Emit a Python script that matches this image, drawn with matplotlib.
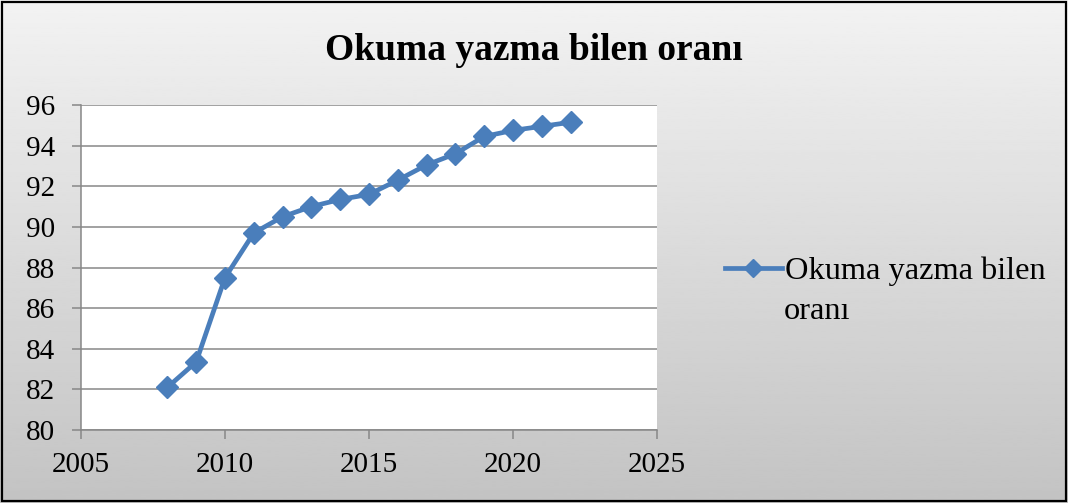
import numpy as np
import matplotlib.pyplot as plt
from matplotlib.patches import Rectangle

# values
years = [2008, 2009, 2010, 2011, 2012, 2013, 2014, 2015, 2016, 2017, 2018, 2019, 2020, 2021, 2022]
rate = [82.1, 83.35, 87.5, 89.7, 90.5, 91.0, 91.35, 91.6, 92.3, 93.05, 93.6, 94.45, 94.75, 94.95, 95.15]
x_ticks = [2005, 2010, 2015, 2020, 2025]
y_ticks = [80, 82, 84, 86, 88, 90, 92, 94, 96]
title = 'Okuma yazma bilen oranı'
legend_lines = ['Okuma yazma bilen', 'oranı']

plt.rcParams['font.family'] = ['Liberation Serif', 'DejaVu Serif']
blue = '#4a7ebb'
grid_col = '#878787'
W, H = 1068, 503

fig = plt.figure(figsize=(W / 100, H / 100), dpi=100)

# gradient background + outer frame
bg = fig.add_axes([0, 0, 1, 1], zorder=-10)
grad = np.linspace(0.95, 0.765, 256).reshape(-1, 1)
bg.imshow(grad, cmap='gray', vmin=0, vmax=1, aspect='auto', extent=[0, 1, 0, 1])
bg.set_xlim(0, 1)
bg.set_ylim(0, 1)
bg.axis('off')
bg.add_patch(Rectangle((0.002, 0.003), 0.996, 0.994, fill=False, edgecolor='black', lw=1.6,
                       transform=bg.transAxes))

ax = fig.add_axes([81 / W, 1 - 430 / H, (657 - 81) / W, (430 - 105) / H])
ax.set_facecolor('white')
ax.plot(years, rate, color=blue, lw=3.4, marker='D', markersize=11.5, label=title, zorder=3)

ax.set_xlim(2005, 2025)
ax.set_ylim(80, 96)
ax.set_xticks(x_ticks)
ax.set_yticks(y_ticks)
ax.grid(axis='y', color=grid_col, lw=1.1)
ax.set_axisbelow(True)
for s in ['top', 'right']:
    ax.spines[s].set_visible(False)
for s in ['left', 'bottom']:
    ax.spines[s].set_color(grid_col)
    ax.spines[s].set_linewidth(1.1)
ax.tick_params(axis='both', direction='out', length=6.5, width=1.1, color=grid_col, labelsize=21)
ax.tick_params(axis='x', pad=9)
ax.tick_params(axis='y', pad=12)

fig.text(0.5, 1 - 60 / H, title, ha='center', va='baseline', fontsize=27, fontweight='bold')

handles, _ = ax.get_legend_handles_labels()
fig.legend(handles, [legend_lines[0]], loc='center left', bbox_to_anchor=(725 / W, 1 - 271 / H),
           frameon=False, fontsize=23.3, handlelength=1.76, handletextpad=0.08,
           borderpad=0, borderaxespad=0, markerscale=0.8)
fig.text(784 / W, 1 - 319 / H, legend_lines[1], ha='left', va='baseline', fontsize=23.3)

fig.savefig('out.png', dpi=100)
